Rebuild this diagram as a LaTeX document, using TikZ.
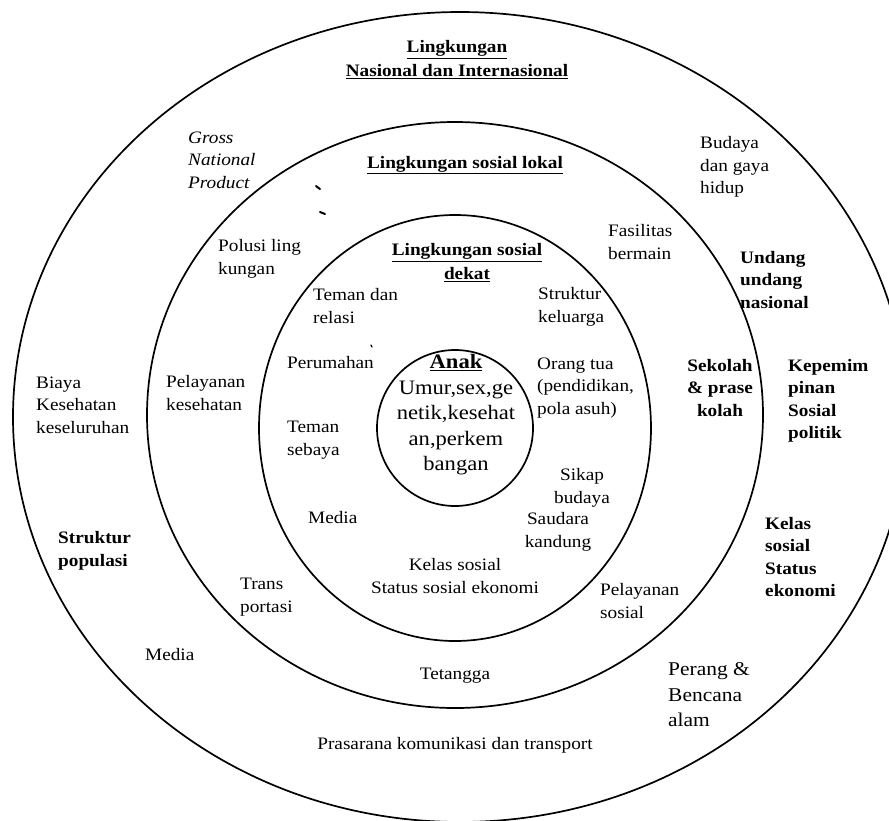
\documentclass[tikz,border=0pt]{standalone}
\usepackage{fontspec}
\setmainfont{Liberation Serif}[FakeStretch=1.1]
\begin{document}
\begin{tikzpicture}[x=1pt,y=-1pt,
  ring/.style={line width=1.7pt},
  txt/.style={inner sep=0pt,font=\fontsize{17.5}{22.5}\selectfont},
  lft/.style={txt,anchor=west,align=left},
  ctr/.style={txt,align=center},
  big/.style={inner sep=0pt,font=\fontsize{19.5}{25.5}\selectfont},
  hd/.style={ctr,font=\fontsize{17.5}{24}\selectfont\bfseries},
  bld/.style={lft,font=\fontsize{17.5}{22.5}\selectfont\bfseries},
  speck/.style={line width=2pt,line cap=round}]
\useasboundingbox (0,0) rectangle (889,820);
\clip (0,0) rectangle (889,820);
\fill[white] (0,0) rectangle (889,820);
% rings
\draw[ring] (460,417) ellipse [x radius=447, y radius=405];
\draw[ring] (455,415) ellipse [x radius=308, y radius=293];
\draw[ring] (455,428) ellipse [x radius=196, y radius=213];
\draw[ring] (455,428) circle [radius=78];
% outer ring texts
\node[hd] (title) at (457,60) {\underline{Lingkungan}\\\underline{Nasional dan Internasional}};
\node[lft,font=\fontsize{17.5}{22.5}\selectfont\itshape] (gnp) at (188,160) {Gross\\National\\Product};
\node[lft] (budaya) at (700,167) {Budaya\\dan gaya\\hidup};
\node[bld] (undang) at (740,280) {Undang\\undang\\nasional};
\node[lft] (biaya) at (36,405) {Biaya\\Kesehatan\\keseluruhan};
\node[bld] (kepemim) at (788,401) {Kepemim\\pinan\\Sosial\\politik};
\node[bld] (populasi) at (58,551) {Struktur\\populasi};
\node[bld] (kelasstatus) at (765,557) {Kelas\\sosial\\Status\\ekonomi};
\node[lft] (mediaout) at (145,655) {Media};
\node[lft,big,align=left] (perang) at (668,695) {Perang \&\\Bencana\\alam};
\node[ctr] (prasarana) at (455,745) {Prasarana komunikasi dan transport};
% local ring texts
\node[hd] (lokal) at (465,165) {\underline{Lingkungan sosial lokal}};
\node[lft] (polusi) at (218,259) {Polusi ling\\kungan};
\node[lft] (fasilitas) at (608,242) {Fasilitas\\bermain};
\node[lft] (pelkes) at (166,393) {Pelayanan\\kesehatan};
\node[ctr,font=\fontsize{17.5}{22.5}\selectfont\bfseries] (sekolah) at (720,388) {Sekolah\\\& prase\\kolah};
\node[lft] (trans) at (240,597) {Trans\\portasi};
\node[lft] (pelsos) at (600,601) {Pelayanan\\sosial};
\node[ctr] (tetangga) at (455,676) {Tetangga};
% near ring texts
\node[hd] (dekat) at (467,263) {\underline{Lingkungan sosial}\\\underline{dekat}};
\node[lft] (relasi) at (313,306) {Teman dan\\relasi};
\node[lft] (keluarga) at (538,307) {Struktur\\keluarga};
\node[lft] (perumahan) at (287,363) {Perumahan};
\node[lft] (orangtua) at (537,388) {Orang tua\\(pendidikan,\\pola asuh)};
\node[lft] (sebaya) at (287,440) {Teman\\sebaya};
\node[ctr] (sikap) at (582,488) {Sikap\\budaya};
\node[ctr] (saudara) at (558,532) {Saudara\\kandung};
\node[lft] (mediain) at (308,518) {Media};
\node[ctr] (kelas) at (455,576) {Kelas sosial\\Status sosial ekonomi};
% centre
\node[big,align=center,font=\fontsize{20.5}{25.5}\selectfont] (anak) at (456,415) {\underline{\textbf{Anak}}\\Umur,sex,ge\\netik,kesehat\\an,perkem\\bangan};
% scan specks
\draw[speck] (316,186) -- (320,189);
\draw[speck] (320,212) -- (325,214);
\draw[speck,line width=1.2pt] (371,345) -- (372,347);
\end{tikzpicture}
\end{document}
